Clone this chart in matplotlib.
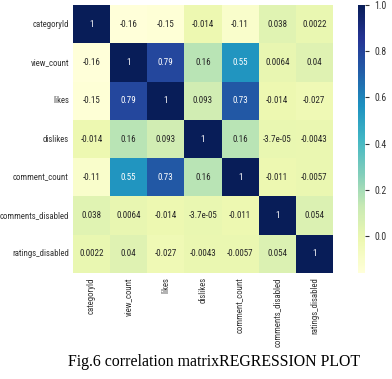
import numpy as np
import pandas as pd
import matplotlib
matplotlib.use("Agg")
import matplotlib.pyplot as plt
import seaborn as sns

cols = ["categoryId", "view_count", "likes", "dislikes",
        "comment_count", "comments_disabled", "ratings_disabled"]

categoryId = [1, -0.16, -0.15, -0.014, -0.11, 0.038, 0.0022]
view_count = [-0.16, 1, 0.79, 0.16, 0.55, 0.0064, 0.04]
likes = [-0.15, 0.79, 1, 0.093, 0.73, -0.014, -0.027]
dislikes = [-0.014, 0.16, 0.093, 1, 0.16, -3.7e-05, -0.0043]
comment_count = [-0.11, 0.55, 0.73, 0.16, 1, -0.011, -0.0057]
comments_disabled = [0.038, 0.0064, -0.014, -3.7e-05, -0.011, 1, 0.054]
ratings_disabled = [0.0022, 0.04, -0.027, -0.0043, -0.0057, 0.054, 1]

corr = pd.DataFrame([categoryId, view_count, likes, dislikes,
                     comment_count, comments_disabled, ratings_disabled],
                    index=cols, columns=cols)

lab_font = ["Roboto Condensed", "DejaVu Sans"]

fig = plt.figure(figsize=(3.92, 3.79), dpi=100)
W, H = 392, 379
ax = fig.add_axes([73 / W, 1 - 273 / H, 260 / W, 268 / H])
cax = fig.add_axes([358 / W, 1 - 273 / H, 7 / W, 268 / H])

sns.heatmap(corr, annot=True, cmap="YlGnBu", ax=ax, cbar_ax=cax,
            annot_kws={"fontsize": 6.5, "family": lab_font})

ax.tick_params(length=0, labelsize=6.3, colors="#333333", pad=3)
for t in ax.get_xticklabels() + ax.get_yticklabels():
    t.set_family(lab_font)
plt.setp(ax.get_xticklabels(), rotation=90)
plt.setp(ax.get_yticklabels(), rotation=0)

cax.tick_params(labelsize=7, length=3, colors="#333333")
cax.set_yticks([0.0, 0.2, 0.4, 0.6, 0.8, 1.0])
cax.set_yticklabels(["0.0", "0.2", "0.4", "0.6", "0.8", "1.0"], family=lab_font)
for s in cax.spines.values():
    s.set_visible(False)

# white band cutting off the long tick labels, then the caption
fig.patches.append(plt.Rectangle((0, 0), 1, 1 - 348 / H, transform=fig.transFigure,
                                 facecolor="white", edgecolor="none", zorder=10))
fig.text(68 / W, 1 - 366 / H, "Fig.6 correlation matrixREGRESSION PLOT",
         family="Liberation Serif", fontsize=11.4, color="black", zorder=11)

fig.savefig("out.png", dpi=100)
